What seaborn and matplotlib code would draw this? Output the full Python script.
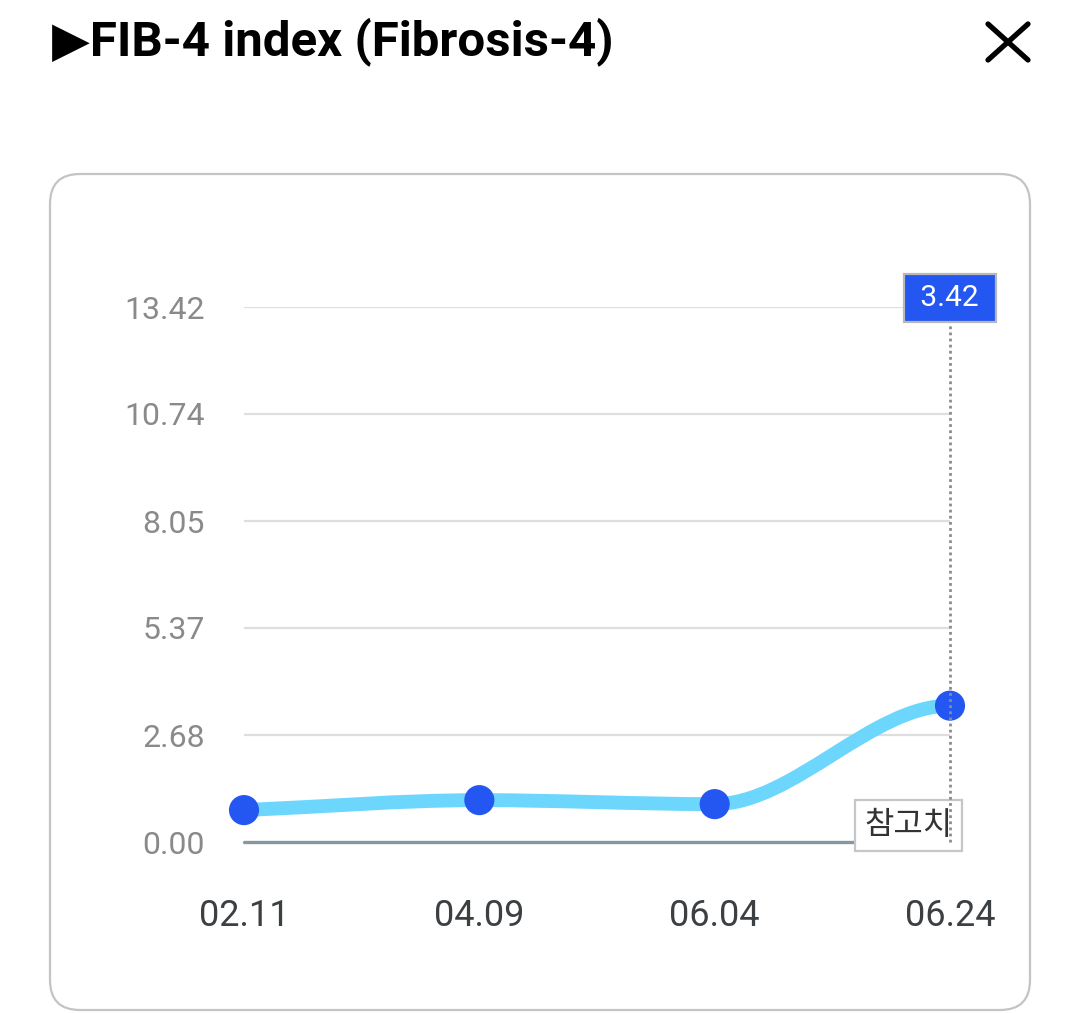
import numpy as np
import matplotlib
matplotlib.use("Agg")
import matplotlib.pyplot as plt
import seaborn as sns
from matplotlib.path import Path
from matplotlib.patches import PathPatch, FancyBboxPatch
from matplotlib.lines import Line2D
from matplotlib.transforms import IdentityTransform

# data
dates = ["02.11", "04.09", "06.04", "06.24"]
fib4 = [0.80, 1.05, 0.95, 3.42]
y_ticks = [0.00, 2.68, 5.37, 8.05, 10.74, 13.42]
title = "▶FIB-4 index (Fibrosis-4)"
ref_label = "참고치"

sns.set_theme(style="white")
plt.rcParams["font.family"] = ["Roboto", "Noto Sans CJK KR", "DejaVu Sans"]

W, H = 1080, 1013
fig = plt.figure(figsize=(W / 100, H / 100), dpi=100)
ax = fig.add_axes([244 / W, 1 - 842 / H, 706 / W, 535 / H])

x = np.arange(len(fib4))
y = np.array(fib4)

# smooth curve: cubic bezier, flat at local extrema and at the last point
d = np.diff(y)
m = np.zeros(len(y))
m[0] = d[0]
for i in range(1, len(y) - 1):
    m[i] = 0 if d[i - 1] * d[i] <= 0 else 2 / (1 / d[i - 1] + 1 / d[i])
verts = [(x[0], y[0])]
codes = [Path.MOVETO]
for i in range(len(y) - 1):
    verts += [(x[i] + 1 / 3, y[i] + m[i] / 3),
              (x[i + 1] - 1 / 3, y[i + 1] - m[i + 1] / 3),
              (x[i + 1], y[i + 1])]
    codes += [Path.CURVE4] * 3
ax.add_patch(PathPatch(Path(verts, codes), fill=False, edgecolor="#6dd6fd",
                       lw=10, capstyle="round", zorder=3, clip_on=False))

sns.scatterplot(x=x, y=y, s=470, color="#2457f2", edgecolor="none",
                zorder=4, clip_on=False, ax=ax)

# grid + zero line
for t in y_ticks[1:]:
    ax.axhline(t, color="#dedede", lw=1.6, zorder=1)
ax.axhline(0, color="#8796a0", lw=2.4, zorder=2, clip_on=False)

ax.set_xlim(0, len(fib4) - 1)
ax.set_ylim(0, y_ticks[-1])
ax.set_xticks(x)
ax.set_xticklabels(dates)
ax.set_yticks(y_ticks)
ax.set_yticklabels([f"{t:.2f}" for t in y_ticks])
ax.tick_params(axis="y", length=0, pad=28, labelsize=23, labelcolor="#8a8a8a")
ax.tick_params(axis="x", length=0, pad=40, labelsize=26, labelcolor="#3c4043")
for s in ax.spines.values():
    s.set_visible(False)
ax.grid(False)
ax.set_facecolor("none")

# reference label box near the zero line
ax.annotate(ref_label, xy=(x[-1], 0), xytext=(-30, 12), textcoords="offset points",
            ha="center", va="center", fontsize=23, color="#333333",
            family=["Noto Sans CJK KR", "DejaVu Sans"], zorder=5,
            bbox=dict(boxstyle="square,pad=0.3", fc="white", ec="#c6c6c6", lw=1.6))

# dotted guide at the selected point
ax.axvline(x[-1], ymin=0, ymax=1, color="#8c8c8c", lw=2,
           ls=(0, (1, 1.2)), zorder=7, clip_on=False)

# value tooltip
ax.annotate(f" {fib4[-1]:.2f} ", xy=(x[-1], 1), xycoords=("data", "axes fraction"),
            xytext=(0, 6.5), textcoords="offset points", ha="center", va="center",
            fontsize=21.5, color="white", zorder=8, annotation_clip=False,
            bbox=dict(boxstyle="square,pad=0.33", fc="#2457f2", ec="#b8b8b8", lw=1.6))

# rounded panel
fig.patches.append(FancyBboxPatch((50, 3), 980, 836,
                                  boxstyle="round,pad=0,rounding_size=30",
                                  transform=IdentityTransform(), fc="none",
                                  ec="#c4c4c4", lw=1.6, zorder=0, figure=fig))

# header
fig.text(52 / W, 1 - 42 / H, title, fontsize=35.5, fontweight="bold", color="black",
         ha="left", va="center", family=["Roboto", "DejaVu Sans"])
for (x0, y0, x1, y1) in [(988, 24, 1028, 60), (1028, 24, 988, 60)]:
    fig.lines.append(Line2D([x0, x1], [H - y0, H - y1], transform=IdentityTransform(),
                            color="black", lw=3.8, figure=fig))

fig.savefig("out.png", dpi=100)
